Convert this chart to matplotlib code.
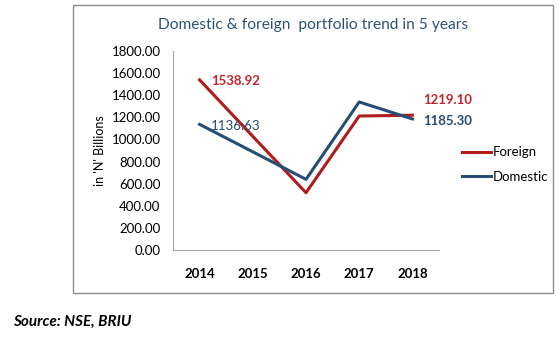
import matplotlib
matplotlib.use("Agg")
import matplotlib.pyplot as plt
from matplotlib.patches import Rectangle

# 数据
years = ["2014", "2015", "2016", "2017", "2018"]
foreign = [1538.92, 1028.0, 518.0, 1212.0, 1219.10]
domestic = [1136.63, 888.0, 639.0, 1339.0, 1185.30]
y_ticks = [0, 200, 400, 600, 800, 1000, 1200, 1400, 1600, 1800]

red = "#B01C1C"
blue = "#264D73"

plt.rcParams['font.family'] = ['Lato', 'DejaVu Sans']

fig = plt.figure(figsize=(5.6, 3.42), dpi=100)
W, H = 560, 342

# 外框
fig.patches.append(Rectangle((73 / W, 1 - 293 / H), 480 / W, 288 / H,
                             transform=fig.transFigure, fill=False,
                             edgecolor="#8C8C8C", linewidth=1.0))

ax = fig.add_axes([173 / W, 1 - 250 / H, 266 / W, 199 / H])
x = list(range(len(years)))
ax.plot(x, foreign, color=red, linewidth=2.2, label="Foreign")
ax.plot(x, domestic, color=blue, linewidth=2.2, label="Domestic")

ax.set_xlim(-0.5, 4.5)
ax.set_ylim(0, 1800)
ax.set_yticks(y_ticks)
ax.set_yticklabels(["%.2f" % v for v in y_ticks], fontsize=9.5)
ax.set_xticks(x)
ax.set_xticklabels(years, fontsize=9.5, fontweight="bold")
ax.tick_params(axis="y", length=0, pad=9)
ax.tick_params(axis="x", length=0, pad=13)
for side in ["top", "right"]:
    ax.spines[side].set_visible(False)
for side in ["left", "bottom"]:
    ax.spines[side].set_color("#A6A6A6")
ax.set_ylabel("in 'N' Billions", fontsize=9, labelpad=4)

# 数据标签
ax.annotate("%.2f" % foreign[0], (x[0], foreign[0]), xytext=(8, -1),
            textcoords="offset points", color="#C0272D", fontsize=9.5,
            fontweight="bold", va="center")
ax.annotate("%.2f" % domestic[0], (x[0], domestic[0]), xytext=(8, -1),
            textcoords="offset points", color=blue, fontsize=9.5,
            va="center")
ax.annotate("%.2f" % foreign[4], (x[4], foreign[4]), xytext=(8, 11),
            textcoords="offset points", color="#C0272D", fontsize=9.5,
            fontweight="bold", va="center")
ax.annotate("%.2f" % domestic[4], (x[4], domestic[4]), xytext=(8, -1.5),
            textcoords="offset points", color=blue, fontsize=9.5,
            fontweight="bold", va="center")

ax.legend(loc="center left", bbox_to_anchor=(1.04, 0.43), frameon=False,
          fontsize=9.5, handlelength=2.2, labelspacing=0.95, handletextpad=0.15)

fig.text(313 / W, 1 - 25 / H, "Domestic & foreign  portfolio trend in 5 years",
         ha="center", va="center", fontsize=11.2, color="#2E5473")
fig.text(13 / W, 1 - 322 / H, "Source: NSE, BRIU", ha="left", va="center",
         fontsize=11, fontweight="bold", fontstyle="italic")

fig.savefig("out.png", dpi=100)
